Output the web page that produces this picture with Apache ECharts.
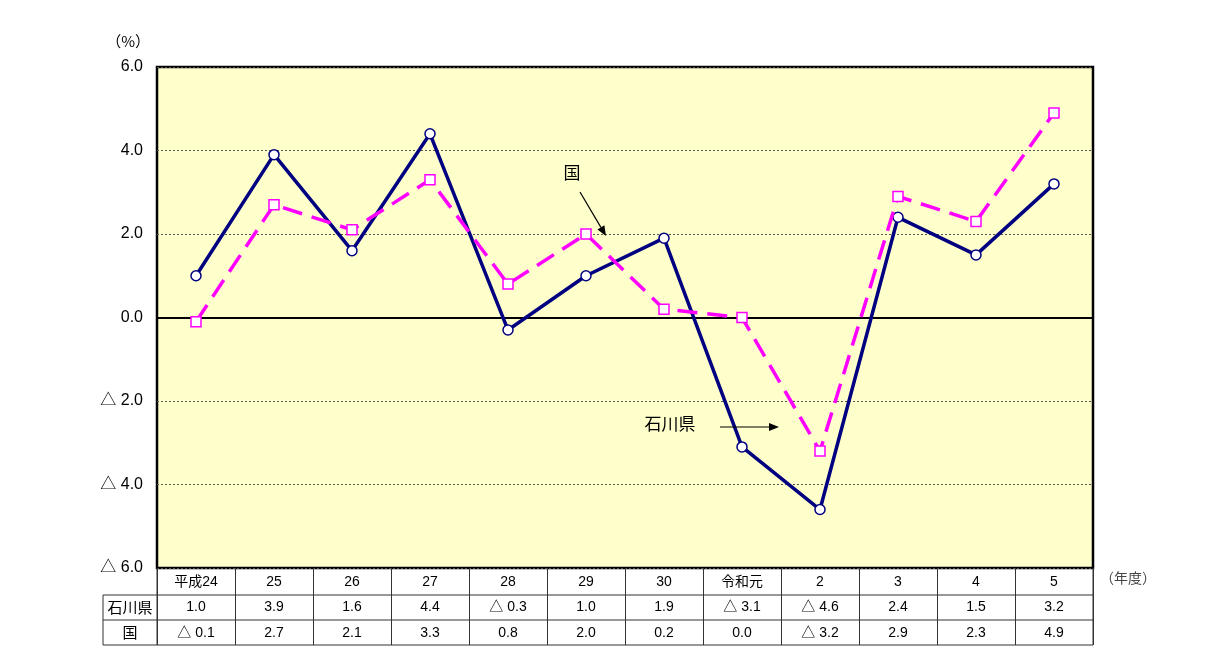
<!DOCTYPE html>
<html><head><meta charset="utf-8">
<script src="https://cdn.jsdelivr.net/npm/echarts@6/dist/echarts.min.js"></script>
<style>html,body{margin:0;padding:0;background:#fff}#c{width:1218px;height:671px}</style>
</head><body><div id="c"></div>
<script>
const categories = ['平成24','25','26','27','28','29','30','令和元','2','3','4','5'];
const ishikawa = [1.0, 3.9, 1.6, 4.4, -0.3, 1.0, 1.9, -3.1, -4.6, 2.4, 1.5, 3.2];
const kuni = [-0.1, 2.7, 2.1, 3.3, 0.8, 2.0, 0.2, 0.0, -3.2, 2.9, 2.3, 4.9];
const yTicks = [-6, -4, -2, 0, 2, 4, 6];
const rowNames = ['石川県', '国'];

const FONT = '"Liberation Sans", "Noto Sans CJK JP", sans-serif';
const fmt = v => v < 0 ? '△ ' + Math.abs(v).toFixed(1) : v.toFixed(1);

const chart = echarts.init(document.getElementById('c'));
const L = 157, R = 1093, T = 67, B = 568;
const tableLeft = 103, rowH = [27, 25, 25];
const row1 = B + rowH[0], row2 = row1 + rowH[1], row3 = row2 + rowH[2];

function arrow(x1, y1, x2, y2) {
  const a = Math.atan2(y2 - y1, x2 - x1), h = 10, w = 4;
  const bx = x2 - h * Math.cos(a), by = y2 - h * Math.sin(a);
  return [
    {type:'line', shape:{x1, y1, x2: bx, y2: by}, style:{stroke:'#000', lineWidth:1.2}, z:100},
    {type:'polygon', shape:{points:[[x2,y2],[bx - w*Math.sin(a), by + w*Math.cos(a)],[bx + w*Math.sin(a), by - w*Math.cos(a)]]}, style:{fill:'#000'}, z:100}
  ];
}

const lineStyle = {stroke:'#333', lineWidth:1};
const graphics = [
  {type:'line', shape:{x1:tableLeft, y1:row1, x2:R, y2:row1}, style:lineStyle},
  {type:'line', shape:{x1:tableLeft, y1:row2, x2:R, y2:row2}, style:lineStyle},
  {type:'line', shape:{x1:tableLeft, y1:row3, x2:R, y2:row3}, style:lineStyle},
  {type:'line', shape:{x1:tableLeft, y1:row1, x2:tableLeft, y2:row3}, style:lineStyle},
  {type:'line', shape:{x1:L, y1:B, x2:L, y2:row3}, style:lineStyle},
  {type:'line', shape:{x1:R, y1:B, x2:R, y2:row3}, style:lineStyle},
  {type:'text', x:(tableLeft+L)/2, y:(row1+row2)/2, style:{text:rowNames[0], font:'15px "Noto Sans CJK JP"', fill:'#000', align:'center', verticalAlign:'middle'}},
  {type:'text', x:(tableLeft+L)/2, y:(row2+row3)/2, style:{text:rowNames[1], font:'15px "Noto Sans CJK JP"', fill:'#000', align:'center', verticalAlign:'middle'}},
  {type:'text', x:1100, y:578, style:{text:'（年度）', font:'14px "Noto Sans CJK JP"', fill:'#444', align:'left', verticalAlign:'middle'}},
  {type:'text', x:572, y:173, style:{text:'国', font:'17px "Noto Sans CJK JP"', fill:'#000', align:'center', verticalAlign:'middle'}, z:100},
  {type:'text', x:670, y:424, style:{text:'石川県', font:'17px "Noto Sans CJK JP"', fill:'#000', align:'center', verticalAlign:'middle'}, z:100},
  ...arrow(580, 192, 606, 236),
  ...arrow(720, 427, 779, 427)
];

chart.setOption({
  animation: false,
  textStyle: {fontFamily: FONT},
  grid: {left: L, right: 1218 - R, top: T, bottom: 671 - B, show: true, backgroundColor: '#FFFFCC', borderColor: '#000', borderWidth: 2.5, z: 0},
  xAxis: {
    type: 'category', data: categories,
    axisLine: {show: false, onZero: false},
    axisTick: {show: true, interval: 0, length: row3 - B, lineStyle: {color: '#333', width: 1}},
    axisLabel: {
      interval: 0, margin: 1, color: '#000', fontSize: 14, lineHeight: 25.5, fontFamily: FONT,
      formatter: (v, i) => v + '\n' + fmt(ishikawa[i]) + '\n' + fmt(kuni[i])
    },
    splitLine: {show: false}
  },
  yAxis: {
    type: 'value', min: yTicks[0], max: yTicks[yTicks.length - 1], interval: 2,
    name: '（%）', nameLocation: 'end', nameGap: 18,
    nameTextStyle: {color: '#000', fontSize: 15, align: 'right', padding: [0, 7, 0, 0], fontFamily: '"Noto Sans CJK JP"'},
    axisLine: {show: false}, axisTick: {show: false},
    axisLabel: {color: '#000', fontSize: 16, margin: 14, fontFamily: FONT, formatter: v => fmt(v)},
    splitLine: {show: true, lineStyle: {color: '#555', type: [2, 2], width: 1}}
  },
  series: [
    {
      name: '石川県', type: 'line', data: ishikawa, z: 3,
      lineStyle: {color: '#000080', width: 3.5},
      itemStyle: {color: '#fff', borderColor: '#000080', borderWidth: 1.5},
      symbol: 'circle', symbolSize: 10, showAllSymbol: true,
      markLine: {silent: true, symbol: 'none', label: {show: false}, lineStyle: {color: '#000', type: 'solid', width: 2}, data: [{yAxis: 0}], z: 1}
    },
    {
      name: '国', type: 'line', data: kuni, z: 4,
      lineStyle: {color: '#FF00FF', width: 3.5, type: [20, 10]},
      itemStyle: {color: '#fff', borderColor: '#FF00FF', borderWidth: 1.5},
      symbol: 'rect', symbolSize: 10, showAllSymbol: true
    }
  ],
  graphic: graphics
});
</script></body></html>
